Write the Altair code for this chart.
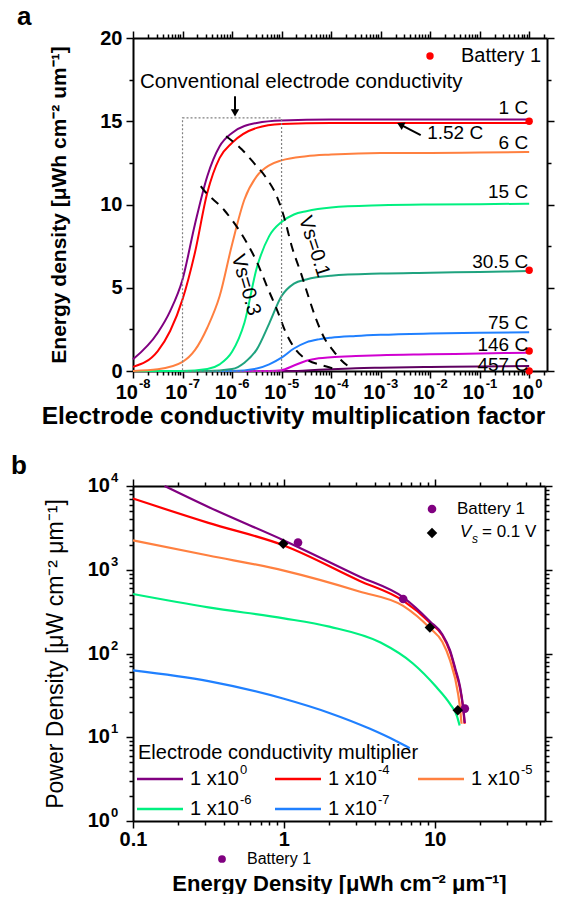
import json
import altair as alt
import pandas as pd

FONT = "Liberation Sans"

# ================= Panel a : energy density vs conductivity factor =================
A_NAMES = ["457 C", "146 C", "75 C", "30.5 C", "15 C", "6 C", "1.52 C", "1 C"]
A_COLORS = ["#5E0060", "#D000D0", "#2080FF", "#1FA37F", "#00F080", "#FF8040", "#FF0000", "#800080"]

# log10(multiplication factor) and energy density
C1_LX = [-8, -7.5, -7.25, -7, -6.75, -6.5, -6.25, -6, -5.5, -5, -4, -3, -2, -1, 0]
C1_E = [0.7, 2.3, 3.6, 5.5, 8.8, 11.7, 13.5, 14.3, 14.9, 15.05, 15.1, 15.1, 15.1, 15.1, 15.1]
C152_LX = [-8, -7.5, -7.25, -7, -6.75, -6.5, -6.25, -6, -5.5, -5, -4, -3, -2, -1, 0]
C152_E = [0.25, 1.2, 2.4, 4.3, 7.1, 10.7, 12.8, 13.7, 14.6, 14.83, 14.9, 14.9, 14.9, 14.9, 14.9]
C6_LX = [-8, -7.5, -7, -6.75, -6.5, -6.25, -6, -5.75, -5.5, -5.25, -5, -4.5, -4, -3, -2, -1, 0]
C6_E = [0.0, 0.1, 0.55, 1.25, 2.6, 4.5, 7.6, 10.3, 11.7, 12.35, 12.65, 12.9, 13.0, 13.1, 13.1, 13.12, 13.15]
C15_LX = [-8, -7, -6.5, -6.25, -6, -5.75, -5.5, -5.25, -5, -4.75, -4.5, -4, -3, -2, -1, 0]
C15_E = [0.0, 0.0, 0.12, 0.4, 1.15, 2.9, 6.2, 8.1, 8.95, 9.4, 9.6, 9.82, 9.95, 10.0, 10.02, 10.05]
C30_LX = [-8, -6.5, -6, -5.75, -5.5, -5.25, -5, -4.75, -4.5, -4, -3, -2, -1, 0]
C30_E = [0.0, 0.0, 0.12, 0.5, 1.3, 2.85, 4.5, 5.25, 5.5, 5.72, 5.85, 5.9, 5.95, 6.0]
C75_LX = [-8, -6, -5.5, -5.25, -5, -4.75, -4.5, -4.25, -4, -3.5, -3, -2, -1, 0]
C75_E = [0.0, 0.0, 0.15, 0.4, 0.8, 1.35, 1.72, 1.9, 2.0, 2.1, 2.17, 2.25, 2.3, 2.33]
C146_LX = [-8, -5.25, -5, -4.75, -4.5, -4.25, -4, -3.5, -3, -2, -1, 0]
C146_E = [0.0, 0.0, 0.05, 0.33, 0.62, 0.77, 0.83, 0.9, 0.95, 1.0, 1.05, 1.1]
C457_LX = [-8, -4.75, -4.5, -4, -3.5, -3, -2, -1, 0]
C457_E = [0.0, 0.0, 0.03, 0.11, 0.17, 0.2, 0.24, 0.27, 0.3]

A_LX = [C457_LX, C146_LX, C75_LX, C30_LX, C15_LX, C6_LX, C152_LX, C1_LX]
A_E = [C457_E, C146_E, C75_E, C30_E, C15_E, C6_E, C152_E, C1_E]

# Battery 1 points (factor = 1)
BAT_A_X = [1, 1, 1, 1]
BAT_A_E = [15.0, 6.05, 1.2, 0.0]

# Vs iso-lines
VS03_LX = [-6.63, -6.57, -6.16, -5.70, -5.49, -5.29, -5.09, -4.91, -4.71, -4.48, -4.20, -3.95]
VS03_E = [11.1, 10.87, 9.67, 7.69, 6.49, 5.05, 3.66, 2.28, 1.26, 0.66, 0.36, 0.15]
VS01_LX = [-6.12, -5.8, -5.56, -5.31, -5.09, -4.95, -4.79, -4.6, -4.45, -4.3, -4.14, -3.95, -3.8, -3.6]
VS01_E = [14.1, 13.3, 12.5, 11.6, 10.45, 9.25, 7.45, 5.8, 4.4, 3.1, 2.0, 1.2, 0.66, 0.18]

# curve end labels
LAB_TEXT = ["1 C", "6 C", "15 C", "30.5 C", "75 C", "146 C", "457 C"]
LAB_E = [15.8, 13.7, 10.75, 6.55, 2.9, 1.56, 0.36]

# conventional conductivity box
BOX_X = [1e-7, 1e-5]
BOX_E = [0, 15.2]

XA_MAX = 10 ** 0.36
XA_EXP = [-8, -7, -6, -5, -4, -3, -2, -1, 0]          # x tick labels 10^k

# ================= Panel b : Ragone plot =================
B_NAMES = ["1 x10⁰", "1 x10⁻⁴", "1 x10⁻⁵", "1 x10⁻⁶", "1 x10⁻⁷"]
B_EXP = ["0", "-4", "-5", "-6", "-7"]
B_COLORS = ["#800080", "#FF0000", "#FF8040", "#00F080", "#2080FF"]

P0_E = [0.162, 0.316, 1.0, 3.16, 6.17, 9.33, 11.2, 12.6, 13.7, 14.7, 15.4, 15.8]
P0_P = [10000, 5620, 2240, 832, 468, 240, 170, 110, 65, 40, 23, 14.8]
P4_E = [0.1, 0.316, 1.0, 3.16, 6.17, 9.33, 11.2, 12.6, 13.7, 14.7, 15.4, 15.75]
P4_P = [7080, 3630, 1950, 741, 427, 232, 165, 105, 62, 38, 22, 14.5]
P5_E = [0.1, 0.316, 1.0, 3.16, 6.17, 9.3, 11.2, 12.6, 14.26, 14.7, 15.03]
P5_P = [2240, 1480, 977, 550, 370, 200, 138, 83, 33, 22, 14.5]
P6_E = [0.1, 0.316, 1.0, 2.0, 4.37, 7.16, 10.2, 12.6, 14.0, 14.6]
P6_P = [513, 355, 263, 209, 135, 76, 40, 25, 18, 13.8]
P7_E = [0.1, 0.316, 1.0, 2.0, 3.72, 5.62, 6.82]
P7_P = [63, 46.8, 28.8, 19.5, 12.6, 8.9, 7.4]

B_E = [P0_E, P4_E, P5_E, P6_E, P7_E]
B_P = [P0_P, P4_P, P5_P, P6_P, P7_P]

BAT_B_E = [1.24, 6.17, 15.8]
BAT_B_P = [2110, 447, 22]
VSB_E = [0.99, 9.27, 14.2]
VSB_P = [2040, 205, 21]

XB_MAX = 10 ** 1.73
XB_LABELS = ["0.1", "1", "10"]
YB_EXP = [0, 1, 2, 3, 4]                                 # y tick labels 10^k

# ================= helpers =================
TEST_LOG = "abs(log(datum.value) / LN10 - round(log(datum.value) / LN10)) < 0.001"
TEST_LIN = "datum.value % 5 === 0"


def tick_size(test):
    return {"condition": {"test": test, "value": 7}, "value": 4}


def log_ticks(k0, k1, vmax):
    return [m * 10.0 ** k for k in range(k0, k1 + 1) for m in range(1, 10)
            if m * 10.0 ** k <= vmax * 1.0001]


AX = dict(domainColor="black", domainWidth=2, tickColor="black", tickWidth=1.5,
          labelFont=FONT, labelFontSize=20, labelFontWeight="bold", labelColor="black",
          labelFlush=False, labelOverlap=False, grid=False, titleFont=FONT, titleColor="black")


def log_label_expr(labels, first):
    return f"{TEST_LOG} ? {json.dumps(labels, ensure_ascii=False)}[round(log(datum.value) / LN10) - ({first})] : ''"


def txt(df, **mk):
    return alt.Chart(df).mark_text(font=FONT, color="black", **mk)


def px_text(s, x, y, size, **mk):
    return txt(pd.DataFrame({"t": [s]}), fontSize=size, **mk).encode(
        x=alt.value(x), y=alt.value(y), text="t:N")


# ================= build panel a =================
rows = []
for name, lx, ev in zip(A_NAMES, A_LX, A_E):
    for l, e in zip(lx, ev):
        rows.append({"series": name, "x": 10.0 ** l, "E": e})
df_a = pd.DataFrame(rows)

XA_TICKS = log_ticks(-8, 0, XA_MAX)
YA_TICKS = [i * 2.5 for i in range(9)]
XA = alt.Scale(type="log", domain=[1e-8, XA_MAX], nice=False)
YA = alt.Scale(domain=[0, 20], nice=False)
WA, HA = 414, 333

ax_a_bottom = alt.Axis(orient="bottom", values=XA_TICKS, tickSize=tick_size(TEST_LOG), labels=False,
                       title="Electrode conductivity multiplication factor", titleFontSize=24.5,
                       titleFontWeight="bold", titleX=160, titleY=45, titleAlign="center",
                       titleBaseline="middle", **AX)
ax_a_left = alt.Axis(orient="left", values=YA_TICKS, tickSize=tick_size(TEST_LIN),
                     labelExpr=f"{TEST_LIN} ? format(datum.value, 'd') : ''", labelPadding=4,
                     title="Energy density [μWh cm⁻² um⁻¹]", titleFontSize=21, titleFontWeight="bold",
                     titleX=-74, titleY=HA / 2, titleAngle=270, titleAlign="center",
                     titleBaseline="middle", **AX)
ax_a_top = alt.Axis(orient="top", values=XA_TICKS, tickSize=tick_size(TEST_LOG), labels=False,
                    title=None, **AX)
ax_a_right = alt.Axis(orient="right", values=YA_TICKS, tickSize=tick_size(TEST_LIN), labels=False,
                      title=None, **AX)

lines_a = alt.Chart(df_a).mark_line(strokeWidth=2, interpolate="monotone").encode(
    x=alt.X("x:Q", scale=XA, axis=ax_a_bottom),
    y=alt.Y("E:Q", scale=YA, axis=ax_a_left),
    color=alt.Color("series:N", scale=alt.Scale(domain=A_NAMES, range=A_COLORS), legend=None),
)

bat_a = alt.Chart(pd.DataFrame({"x": BAT_A_X, "E": BAT_A_E})).mark_point(
    filled=True, color="#FF0000", size=55, opacity=1).encode(
    x=alt.X("x:Q", scale=XA, axis=ax_a_top),
    y=alt.Y("E:Q", scale=YA, axis=ax_a_right),
)

# x tick labels of panel a: "10" with a raised exponent
xa_lab = pd.DataFrame({"x": [10.0 ** k for k in XA_EXP], "b": ["10"] * len(XA_EXP),
                       "s": [str(k) for k in XA_EXP]})
xa_base = txt(xa_lab, fontSize=20, fontWeight="bold", align="right", baseline="middle", dx=5).encode(
    x=alt.X("x:Q", scale=XA, axis=None), y=alt.value(HA + 22), text="b:N")
xa_sup = txt(xa_lab, fontSize=13, fontWeight="bold", align="left", baseline="middle", dx=6).encode(
    x=alt.X("x:Q", scale=XA, axis=None), y=alt.value(HA + 13), text="s:N")

vs_rows = [{"s": "0.3", "x": 10.0 ** l, "E": e} for l, e in zip(VS03_LX, VS03_E)] + \
          [{"s": "0.1", "x": 10.0 ** l, "E": e} for l, e in zip(VS01_LX, VS01_E)]
vs_a = alt.Chart(pd.DataFrame(vs_rows)).mark_line(
    color="black", strokeWidth=2, strokeDash=[9, 7], interpolate="monotone").encode(
    x=alt.X("x:Q", scale=XA, axis=None), y=alt.Y("E:Q", scale=YA, axis=None), detail="s:N")

box_a = alt.Chart(pd.DataFrame({"x1": [BOX_X[0]], "x2": [BOX_X[1]], "y1": [BOX_E[0]], "y2": [BOX_E[1]]})).mark_rect(
    fillOpacity=0, stroke="#808080", strokeWidth=1.2, strokeDash=[2, 2]).encode(
    x=alt.X("x1:Q", scale=XA, axis=None), x2="x2:Q",
    y=alt.Y("y1:Q", scale=YA, axis=None), y2="y2:Q")

labels_a = txt(pd.DataFrame({"t": LAB_TEXT, "x": [1] * len(LAB_TEXT), "E": LAB_E}),
               fontSize=19, align="right", baseline="middle", dx=-1).encode(
    x=alt.X("x:Q", scale=XA, axis=None), y=alt.Y("E:Q", scale=YA, axis=None), text="t:N")

ann_a1 = txt(pd.DataFrame({"t": ["1.52 C"], "x": [10 ** -2.06], "E": [14.3]}),
             fontSize=19, align="left", baseline="middle").encode(
    x=alt.X("x:Q", scale=XA, axis=None), y=alt.Y("E:Q", scale=YA, axis=None), text="t:N")
ann_a2 = txt(pd.DataFrame({"t": ["Conventional electrode conductivity"], "x": [10 ** -7.86], "E": [17.35]}),
             fontSize=20.5, align="left", baseline="middle").encode(
    x=alt.X("x:Q", scale=XA, axis=None), y=alt.Y("E:Q", scale=YA, axis=None), text="t:N")

vs_lab = pd.DataFrame({"t": ["Vs=0.3"], "x": [10 ** -5.72], "E": [5.17]})
vs_lab2 = pd.DataFrame({"t": ["Vs=0.1"], "x": [10 ** -4.34], "E": [7.47]})
vs_text1 = txt(vs_lab, fontSize=20, angle=74, align="center", baseline="middle").encode(
    x=alt.X("x:Q", scale=XA, axis=None), y=alt.Y("E:Q", scale=YA, axis=None), text="t:N")
vs_text2 = txt(vs_lab2, fontSize=20, angle=72, align="center", baseline="middle").encode(
    x=alt.X("x:Q", scale=XA, axis=None), y=alt.Y("E:Q", scale=YA, axis=None), text="t:N")

arrows = pd.DataFrame({"x1": [10 ** -5.94, 10 ** -2.19], "x2": [10 ** -5.94, 10 ** -2.59],
                       "y1": [16.5, 14.17], "y2": [15.55, 14.78]})
arrow_shafts = alt.Chart(arrows).mark_rule(color="black", strokeWidth=2).encode(
    x=alt.X("x1:Q", scale=XA, axis=None), x2="x2:Q",
    y=alt.Y("y1:Q", scale=YA, axis=None), y2="y2:Q")
head1 = alt.Chart(pd.DataFrame({"x": [10 ** -5.94], "E": [15.5]})).mark_point(
    shape="triangle-down", filled=True, color="black", size=70, opacity=1).encode(
    x=alt.X("x:Q", scale=XA, axis=None), y=alt.Y("E:Q", scale=YA, axis=None))
head2 = alt.Chart(pd.DataFrame({"x": [10 ** -2.6], "E": [14.8]})).mark_point(
    shape="triangle-up", filled=True, color="black", size=70, opacity=1, angle=297).encode(
    x=alt.X("x:Q", scale=XA, axis=None), y=alt.Y("E:Q", scale=YA, axis=None))

leg_a_dot = alt.Chart(pd.DataFrame({"t": ["Battery 1"]})).mark_point(
    filled=True, color="#FF0000", size=55, opacity=1).encode(x=alt.value(297), y=alt.value(18))
leg_a_txt = px_text("Battery 1", 328, 18, 20, align="left", baseline="middle")
tag_a = px_text("a", -116, -13, 26, fontWeight="bold", align="left", baseline="alphabetic")

panel_a = alt.layer(lines_a, bat_a, xa_base, xa_sup, vs_a, box_a, labels_a, ann_a1, ann_a2,
                    vs_text1, vs_text2, arrow_shafts, head1, head2, leg_a_dot, leg_a_txt,
                    tag_a).resolve_axis(x="independent", y="independent").properties(width=WA, height=HA)

# ================= build panel b =================
rows = []
for name, ev, pv in reversed(list(zip(B_NAMES, B_E, B_P))):
    for e, p in zip(ev, pv):
        rows.append({"series": name, "E": e, "P": p})
df_b = pd.DataFrame(rows)

XB_TICKS = log_ticks(-1, 1, XB_MAX)
YB_TICKS = log_ticks(0, 4, 10000)
XB = alt.Scale(type="log", domain=[0.1, XB_MAX], nice=False)
YB = alt.Scale(type="log", domain=[1, 10000], nice=False)
WB, HB = 412, 335

ax_b_bottom = alt.Axis(orient="bottom", values=XB_TICKS, tickSize=tick_size(TEST_LOG),
                       labelExpr=log_label_expr(XB_LABELS, -1), labelPadding=1,
                       title="Energy Density [μWh cm⁻² μm⁻¹]", titleFontSize=22,
                       titleFontWeight="bold", titleX=WB / 2, titleY=62, titleAlign="center",
                       titleBaseline="middle", **AX)
ax_b_left = alt.Axis(orient="left", values=YB_TICKS, tickSize=tick_size(TEST_LOG), labels=False,
                     title="Power Density [μW cm⁻² μm⁻¹]", titleFontSize=23, titleFontWeight="normal",
                     titleX=-78, titleY=HB / 2, titleAngle=270, titleAlign="center",
                     titleBaseline="middle", **AX)
ax_b_top = alt.Axis(orient="top", values=XB_TICKS, tickSize=tick_size(TEST_LOG), labels=False,
                    title=None, **AX)
ax_b_right = alt.Axis(orient="right", values=YB_TICKS, tickSize=tick_size(TEST_LOG), labels=False,
                      title=None, **AX)

lines_b = alt.Chart(df_b).mark_line(strokeWidth=2.2, interpolate="monotone").encode(
    x=alt.X("E:Q", scale=XB, axis=ax_b_bottom),
    y=alt.Y("P:Q", scale=YB, axis=ax_b_left),
    color=alt.Color("series:N", scale=alt.Scale(domain=B_NAMES, range=B_COLORS), legend=None),
)
bat_b = alt.Chart(pd.DataFrame({"E": BAT_B_E, "P": BAT_B_P})).mark_point(
    filled=True, color="#800080", size=75, opacity=1).encode(
    x=alt.X("E:Q", scale=XB, axis=ax_b_top), y=alt.Y("P:Q", scale=YB, axis=ax_b_right))
vs_b = alt.Chart(pd.DataFrame({"E": VSB_E, "P": VSB_P})).mark_point(
    shape="diamond", filled=True, color="black", size=110, opacity=1).encode(
    x=alt.X("E:Q", scale=XB, axis=None), y=alt.Y("P:Q", scale=YB, axis=None))

# y tick labels of panel b: "10" with a raised exponent
yb_lab = pd.DataFrame({"P": [10.0 ** k for k in YB_EXP], "b": ["10"] * len(YB_EXP),
                       "s": [str(k) for k in YB_EXP]})
yb_base = txt(yb_lab, fontSize=20, fontWeight="bold", align="right", baseline="middle").encode(
    x=alt.value(-23), y=alt.Y("P:Q", scale=YB, axis=None), text="b:N")
yb_sup = txt(yb_lab, fontSize=13, fontWeight="bold", align="left", baseline="middle", dy=-8).encode(
    x=alt.value(-22), y=alt.Y("P:Q", scale=YB, axis=None), text="s:N")

# legend: conductivity multiplier
leg_layers = [px_text("Electrode conductivity multiplier", 5, 267, 20, align="left", baseline="middle")]
COLS_X = [4, 142, 285]
ROWS_Y = [293, 323]
for i, (name, exp, col) in enumerate(zip(B_NAMES, B_EXP, B_COLORS)):
    cx = COLS_X[i % 3]
    cy = ROWS_Y[i // 3]
    leg_layers.append(alt.Chart(pd.DataFrame({"t": [name]})).mark_rule(color=col, strokeWidth=2.5).encode(
        x=alt.value(cx), x2=alt.value(cx + 46), y=alt.value(cy)))
    leg_layers.append(px_text("1 x10", cx + 53, cy, 20, align="left", baseline="middle"))
    leg_layers.append(px_text(exp, cx + 103, cy - 9, 13, align="left", baseline="middle"))

# legend: markers
leg_b = [
    alt.Chart(pd.DataFrame({"t": ["Battery 1"]})).mark_point(filled=True, color="#800080", size=75, opacity=1).encode(
        x=alt.value(299), y=alt.value(23)),
    px_text("Battery 1", 324, 23, 17, align="left", baseline="middle"),
    alt.Chart(pd.DataFrame({"t": ["Vs"]})).mark_point(shape="diamond", filled=True, color="black", size=110, opacity=1).encode(
        x=alt.value(299), y=alt.value(47)),
    px_text("V", 327, 46, 17, fontStyle="italic", align="left", baseline="middle"),
    px_text("s", 339, 53, 12, fontStyle="italic", align="left", baseline="middle"),
    px_text("= 0.1 V", 349, 46, 17, align="left", baseline="middle"),
    alt.Chart(pd.DataFrame({"t": ["Battery 1"]})).mark_point(filled=True, color="#800080", size=60, opacity=1).encode(
        x=alt.value(89), y=alt.value(373)),
    px_text("Battery 1", 114, 373, 16, align="left", baseline="middle"),
]
tag_b = px_text("b", -122, -12, 26, fontWeight="bold", align="left", baseline="alphabetic")

panel_b = alt.layer(lines_b, bat_b, vs_b, yb_base, yb_sup, *leg_layers, *leg_b, tag_b).resolve_axis(
    x="independent", y="independent").properties(width=WB, height=HB)

chart = alt.vconcat(panel_a, panel_b, spacing=25).resolve_scale(color="independent").properties(
    padding={"left": 11, "top": 4, "right": 0, "bottom": 0}
).configure_view(stroke=None)

chart.save("out.html", embed_options={"renderer": "svg", "actions": False})
